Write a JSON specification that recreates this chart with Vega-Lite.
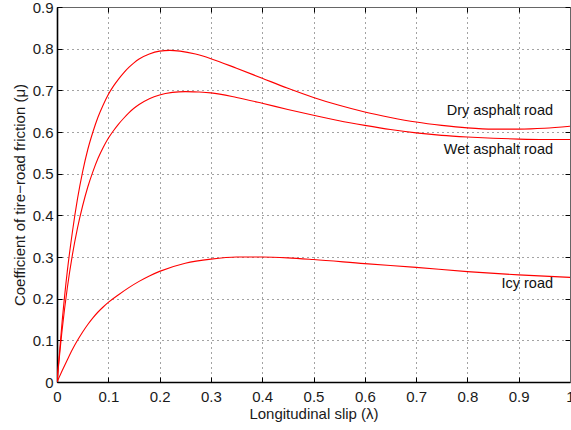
{
  "$schema": "https://vega.github.io/schema/vega-lite/v6.json",
  "width": 513,
  "height": 375,
  "autosize": {"type": "none"},
  "padding": {"left": 57, "top": 7, "right": 1, "bottom": 48},
  "background": "white",
  "config": {
    "view": {"stroke": null},
    "font": "Liberation Sans",
    "axis": {
      "labelFont": "Liberation Sans",
      "titleFont": "Liberation Sans",
      "labelFontSize": 15,
      "titleFontSize": 15,
      "titleFontWeight": "normal",
      "labelColor": "#1a1a1a",
      "titleColor": "#1a1a1a",
      "domainColor": "black",
      "tickColor": "black",
      "tickSize": -5,
      "gridColor": "#333333",
      "gridDash": [1, 4],
      "gridOpacity": 0.9
    }
  },
  "datasets": {
    "curves": [
      {"slip": 0, "mu": 0, "road": "Dry"},
      {"slip": 0.01, "mu": 0.145, "road": "Dry"},
      {"slip": 0.02, "mu": 0.265, "road": "Dry"},
      {"slip": 0.03, "mu": 0.36, "road": "Dry"},
      {"slip": 0.04, "mu": 0.44, "road": "Dry"},
      {"slip": 0.05, "mu": 0.505, "road": "Dry"},
      {"slip": 0.06, "mu": 0.558, "road": "Dry"},
      {"slip": 0.07, "mu": 0.6, "road": "Dry"},
      {"slip": 0.08, "mu": 0.636, "road": "Dry"},
      {"slip": 0.09, "mu": 0.665, "road": "Dry"},
      {"slip": 0.1, "mu": 0.69, "road": "Dry"},
      {"slip": 0.11, "mu": 0.71, "road": "Dry"},
      {"slip": 0.12, "mu": 0.727, "road": "Dry"},
      {"slip": 0.13, "mu": 0.742, "road": "Dry"},
      {"slip": 0.14, "mu": 0.755, "road": "Dry"},
      {"slip": 0.15, "mu": 0.766, "road": "Dry"},
      {"slip": 0.16, "mu": 0.775, "road": "Dry"},
      {"slip": 0.18, "mu": 0.787, "road": "Dry"},
      {"slip": 0.2, "mu": 0.794, "road": "Dry"},
      {"slip": 0.22, "mu": 0.796, "road": "Dry"},
      {"slip": 0.24, "mu": 0.794, "road": "Dry"},
      {"slip": 0.27, "mu": 0.787, "road": "Dry"},
      {"slip": 0.3, "mu": 0.776, "road": "Dry"},
      {"slip": 0.35, "mu": 0.753, "road": "Dry"},
      {"slip": 0.4, "mu": 0.729, "road": "Dry"},
      {"slip": 0.45, "mu": 0.705, "road": "Dry"},
      {"slip": 0.5, "mu": 0.683, "road": "Dry"},
      {"slip": 0.55, "mu": 0.664, "road": "Dry"},
      {"slip": 0.6, "mu": 0.648, "road": "Dry"},
      {"slip": 0.65, "mu": 0.635, "road": "Dry"},
      {"slip": 0.7, "mu": 0.624, "road": "Dry"},
      {"slip": 0.75, "mu": 0.616, "road": "Dry"},
      {"slip": 0.8, "mu": 0.61, "road": "Dry"},
      {"slip": 0.85, "mu": 0.607, "road": "Dry"},
      {"slip": 0.9, "mu": 0.607, "road": "Dry"},
      {"slip": 0.95, "mu": 0.609, "road": "Dry"},
      {"slip": 1.0, "mu": 0.614, "road": "Dry"},
      {"slip": 0, "mu": 0, "road": "Wet"},
      {"slip": 0.01, "mu": 0.125, "road": "Wet"},
      {"slip": 0.02, "mu": 0.225, "road": "Wet"},
      {"slip": 0.03, "mu": 0.305, "road": "Wet"},
      {"slip": 0.04, "mu": 0.37, "road": "Wet"},
      {"slip": 0.05, "mu": 0.423, "road": "Wet"},
      {"slip": 0.06, "mu": 0.468, "road": "Wet"},
      {"slip": 0.07, "mu": 0.505, "road": "Wet"},
      {"slip": 0.08, "mu": 0.537, "road": "Wet"},
      {"slip": 0.09, "mu": 0.563, "road": "Wet"},
      {"slip": 0.1, "mu": 0.585, "road": "Wet"},
      {"slip": 0.11, "mu": 0.603, "road": "Wet"},
      {"slip": 0.12, "mu": 0.619, "road": "Wet"},
      {"slip": 0.13, "mu": 0.633, "road": "Wet"},
      {"slip": 0.14, "mu": 0.646, "road": "Wet"},
      {"slip": 0.15, "mu": 0.657, "road": "Wet"},
      {"slip": 0.16, "mu": 0.666, "road": "Wet"},
      {"slip": 0.18, "mu": 0.68, "road": "Wet"},
      {"slip": 0.2, "mu": 0.689, "road": "Wet"},
      {"slip": 0.225, "mu": 0.695, "road": "Wet"},
      {"slip": 0.25, "mu": 0.697, "road": "Wet"},
      {"slip": 0.275, "mu": 0.696, "road": "Wet"},
      {"slip": 0.3, "mu": 0.694, "road": "Wet"},
      {"slip": 0.35, "mu": 0.683, "road": "Wet"},
      {"slip": 0.4, "mu": 0.669, "road": "Wet"},
      {"slip": 0.45, "mu": 0.654, "road": "Wet"},
      {"slip": 0.5, "mu": 0.64, "road": "Wet"},
      {"slip": 0.55, "mu": 0.627, "road": "Wet"},
      {"slip": 0.6, "mu": 0.616, "road": "Wet"},
      {"slip": 0.65, "mu": 0.606, "road": "Wet"},
      {"slip": 0.7, "mu": 0.598, "road": "Wet"},
      {"slip": 0.75, "mu": 0.592, "road": "Wet"},
      {"slip": 0.8, "mu": 0.588, "road": "Wet"},
      {"slip": 0.85, "mu": 0.585, "road": "Wet"},
      {"slip": 0.9, "mu": 0.583, "road": "Wet"},
      {"slip": 0.95, "mu": 0.582, "road": "Wet"},
      {"slip": 1.0, "mu": 0.582, "road": "Wet"},
      {"slip": 0, "mu": 0, "road": "Icy"},
      {"slip": 0.01, "mu": 0.027, "road": "Icy"},
      {"slip": 0.02, "mu": 0.053, "road": "Icy"},
      {"slip": 0.03, "mu": 0.078, "road": "Icy"},
      {"slip": 0.04, "mu": 0.1, "road": "Icy"},
      {"slip": 0.05, "mu": 0.12, "road": "Icy"},
      {"slip": 0.06, "mu": 0.138, "road": "Icy"},
      {"slip": 0.07, "mu": 0.154, "road": "Icy"},
      {"slip": 0.08, "mu": 0.168, "road": "Icy"},
      {"slip": 0.09, "mu": 0.18, "road": "Icy"},
      {"slip": 0.1, "mu": 0.191, "road": "Icy"},
      {"slip": 0.12, "mu": 0.2095, "road": "Icy"},
      {"slip": 0.14, "mu": 0.2265, "road": "Icy"},
      {"slip": 0.16, "mu": 0.2415, "road": "Icy"},
      {"slip": 0.18, "mu": 0.2545, "road": "Icy"},
      {"slip": 0.2, "mu": 0.2655, "road": "Icy"},
      {"slip": 0.25, "mu": 0.285, "road": "Icy"},
      {"slip": 0.3, "mu": 0.295, "road": "Icy"},
      {"slip": 0.35, "mu": 0.3, "road": "Icy"},
      {"slip": 0.4, "mu": 0.3, "road": "Icy"},
      {"slip": 0.45, "mu": 0.298, "road": "Icy"},
      {"slip": 0.5, "mu": 0.294, "road": "Icy"},
      {"slip": 0.6, "mu": 0.284, "road": "Icy"},
      {"slip": 0.7, "mu": 0.275, "road": "Icy"},
      {"slip": 0.8, "mu": 0.265, "road": "Icy"},
      {"slip": 0.9, "mu": 0.257, "road": "Icy"},
      {"slip": 1.0, "mu": 0.251, "road": "Icy"}
    ],
    "labels": [
      {"slip": 0.967, "mu": 0.651, "text": "Dry asphalt road"},
      {"slip": 0.967, "mu": 0.558, "text": "Wet asphalt road"},
      {"slip": 0.967, "mu": 0.236, "text": "Icy road"}
    ]
  },
  "resolve": {"axis": {"x": "independent", "y": "independent"}},
  "layer": [
    {
      "data": {"name": "curves"},
      "mark": {"type": "line", "interpolate": "monotone", "color": "#ff0000", "strokeWidth": 1.1, "clip": true},
      "encoding": {
        "x": {
          "field": "slip", "type": "quantitative",
          "scale": {"domain": [0, 1], "nice": false, "zero": false},
          "axis": {
            "orient": "bottom",
            "title": "Longitudinal slip (λ)",
            "values": [0, 0.1, 0.2, 0.3, 0.4, 0.5, 0.6, 0.7, 0.8, 0.9, 1],
            "format": "~g",
            "grid": true,
            "domainWidth": 1.6,
            "labelPadding": 12,
            "titlePadding": 2,
            "labelFlush": false
          }
        },
        "y": {
          "field": "mu", "type": "quantitative",
          "scale": {"domain": [0, 0.9], "nice": false, "zero": false},
          "axis": {
            "orient": "left",
            "title": "Coefficient of tire−road friction (μ)",
            "values": [0, 0.1, 0.2, 0.3, 0.4, 0.5, 0.6, 0.7, 0.8, 0.9],
            "format": "~g",
            "grid": true,
            "domainWidth": 1.6,
            "labelPadding": 9,
            "titlePadding": 5,
            "labelFlush": false
          }
        },
        "detail": {"field": "road", "type": "nominal"}
      }
    },
    {
      "data": {"name": "labels"},
      "mark": {"type": "text", "align": "right", "baseline": "middle", "font": "Liberation Sans", "fontSize": 14.5, "color": "#111111"},
      "encoding": {
        "x": {
          "field": "slip", "type": "quantitative",
          "scale": {"domain": [0, 1], "nice": false, "zero": false},
          "axis": {"orient": "top", "title": null, "labels": false, "grid": false, "values": [0, 0.1, 0.2, 0.3, 0.4, 0.5, 0.6, 0.7, 0.8, 0.9, 1], "domainColor": "#666666", "domainWidth": 1}
        },
        "y": {
          "field": "mu", "type": "quantitative",
          "scale": {"domain": [0, 0.9], "nice": false, "zero": false},
          "axis": {"orient": "right", "title": null, "labels": false, "grid": false, "values": [0, 0.1, 0.2, 0.3, 0.4, 0.5, 0.6, 0.7, 0.8, 0.9], "domainColor": "#666666", "domainWidth": 1}
        },
        "text": {"field": "text"}
      }
    }
  ]
}
